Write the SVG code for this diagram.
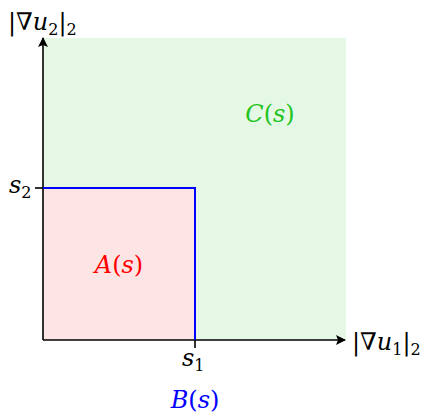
<svg xmlns="http://www.w3.org/2000/svg" width="428" height="413" viewBox="0 0 428 413">
<style>
text{font-family:"DejaVu Serif",serif;font-size:24px;fill:#000}
.i{font-style:italic}
.sub{font-size:16px}
.ax{stroke:#000;stroke-width:1.6;fill:none}
.bl{stroke:#0000ff;stroke-width:2;fill:none}
</style>
<defs>
<marker id="ah" viewBox="0 0 10 10" refX="9" refY="5" markerWidth="10" markerHeight="10" markerUnits="userSpaceOnUse" orient="auto">
<path d="M0,0 L10,5 L0,10 L2,5 Z" fill="#000"/>
</marker>
</defs>
<g id="region-C"><rect x="43" y="38" width="303" height="302" fill="#e5f8e5"/></g>
<g id="region-A"><rect x="43" y="188" width="152" height="152" fill="#fde5e5"/></g>
<g id="connectors">
<line class="ax" x1="43" y1="340" x2="345" y2="340" marker-end="url(#ah)"/>
<line class="ax" x1="43" y1="340" x2="43" y2="38" marker-end="url(#ah)"/>
<line class="ax" x1="35" y1="188" x2="43" y2="188"/>
<line class="ax" x1="195" y1="340" x2="195" y2="348"/>
<polyline class="bl" points="43,188 195,188 195,340"/>
</g>
<g id="labels">
<text x="8" y="30">|∇<tspan class="i">u</tspan><tspan class="sub" dy="5">2</tspan><tspan dy="-5">|</tspan><tspan class="sub" dy="5">2</tspan></text>
<text x="352" y="350">|∇<tspan class="i">u</tspan><tspan class="sub" dy="5">1</tspan><tspan dy="-5">|</tspan><tspan class="sub" dy="5">2</tspan></text>
<text x="9" y="193"><tspan class="i">s</tspan><tspan class="sub" dy="5">2</tspan></text>
<text x="182" y="366"><tspan class="i">s</tspan><tspan class="sub" dy="5">1</tspan></text>
<text x="195" y="408" text-anchor="middle" style="fill:#0000ff"><tspan class="i">B</tspan>(<tspan class="i">s</tspan>)</text>
<text x="270" y="122" text-anchor="middle" style="fill:#22c422"><tspan class="i">C</tspan>(<tspan class="i">s</tspan>)</text>
<text x="119" y="273" text-anchor="middle" style="fill:#ff0000"><tspan class="i">A</tspan>(<tspan class="i">s</tspan>)</text>
</g>
</svg>
